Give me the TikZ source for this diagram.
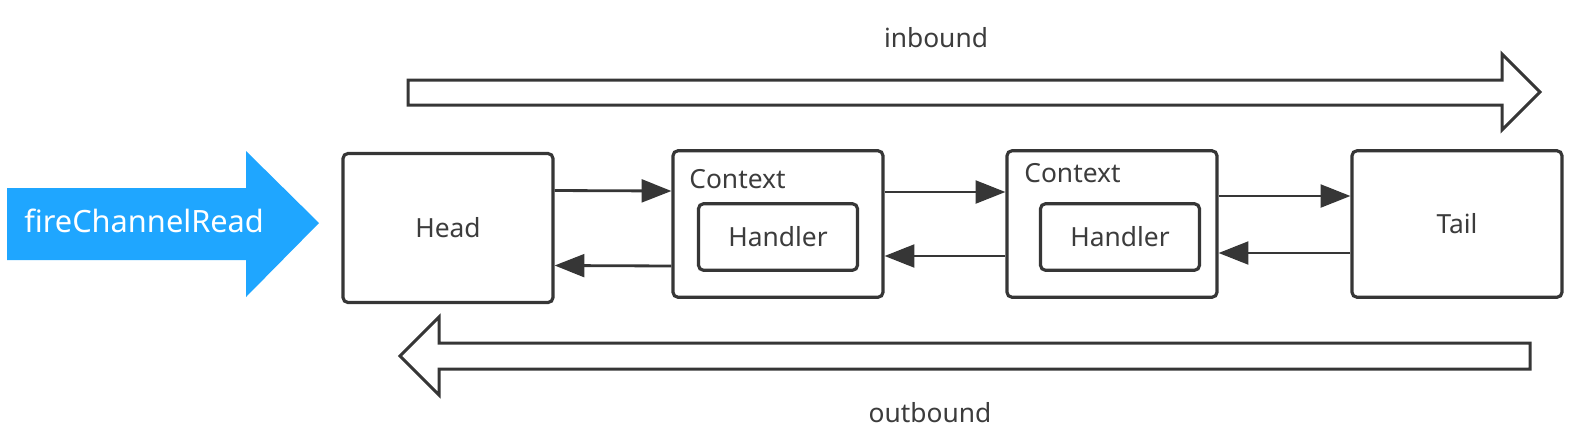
\documentclass[tikz,border=0pt]{standalone}
\usepackage{fontspec}
\setmainfont{Noto Sans}
\usetikzlibrary{arrows.meta,positioning}
\definecolor{cline}{HTML}{363636}
\definecolor{ctext}{HTML}{3C3C3C}
\definecolor{cfire}{HTML}{1FA6FF}
\tikzset{
  box/.style={draw=cline, line width=1.8pt, rounded corners=2.8pt, minimum width=4.2cm, minimum height=2.93cm, inner sep=0pt, font=\fontsize{15}{18}\selectfont, text=ctext, fill=white},
  hbox/.style={box, minimum width=3.18cm, minimum height=1.33cm},
  lbl/.style={font=\fontsize{15}{18}\selectfont, text=ctext, inner sep=0pt},
  link/.style={draw=cline, line width=1.6pt, -{Triangle[length=17pt, width=13pt]}},
  hollow/.style={draw=cline, line width=1.7pt, fill=white, line join=miter},
}
\begin{document}
\begin{tikzpicture}[x=0.02cm,y=-0.02cm]
\useasboundingbox (0,0) rectangle (1574,444);
% event entering the pipeline
\fill[cfire] (7,188) -- (246,188) -- (246,151) -- (319,223) -- (246,297) -- (246,260) -- (7,260) -- cycle;
\node[lbl, text=white, anchor=west, font=\fontsize{17.5}{20}\selectfont] (fire) at (24,221) {fireChannelRead};
% direction arrows
\draw[hollow] (408,80) -- (1502,80) -- (1502,54) -- (1540,92) -- (1502,130) -- (1502,105) -- (408,105) -- cycle;
\node[lbl] (in) at (936,38) {inbound};
\draw[hollow] (1530,343) -- (439,343) -- (439,317) -- (400,356) -- (439,395) -- (439,369) -- (1530,369) -- cycle;
\node[lbl] (out) at (930,413) {outbound};
% pipeline
\node[box, minimum height=2.98cm] (head) at (448,228) {Head};
\node[box] (ctx1) at (778,224) {};
\node[lbl, anchor=west] (c1lbl) at (689,179) {Context};
\node[hbox] (hdl1) at (778,237) {Handler};
\node[box] (ctx2) at (1112,224) {};
\node[lbl, anchor=west] (c2lbl) at (1024,173) {Context};
\node[hbox] (hdl2) at (1120,237) {Handler};
\node[box] (tail) at (1457,224) {Tail};
% links
\draw[link] ([yshift=0.75cm]head.east) -- ([yshift=0.66cm]ctx1.west);
\draw[link] ([yshift=-0.84cm]ctx1.west) -- ([yshift=-0.75cm]head.east);
\draw[link] ([yshift=0.64cm]ctx1.east) -- ([yshift=0.64cm]ctx2.west);
\draw[link] ([yshift=-0.64cm]ctx2.west) -- ([yshift=-0.64cm]ctx1.east);
\draw[link] ([yshift=0.56cm]ctx2.east) -- ([yshift=0.56cm]tail.west);
\draw[link] ([yshift=-0.58cm]tail.west) -- ([yshift=-0.58cm]ctx2.east);
\end{tikzpicture}
\end{document}
